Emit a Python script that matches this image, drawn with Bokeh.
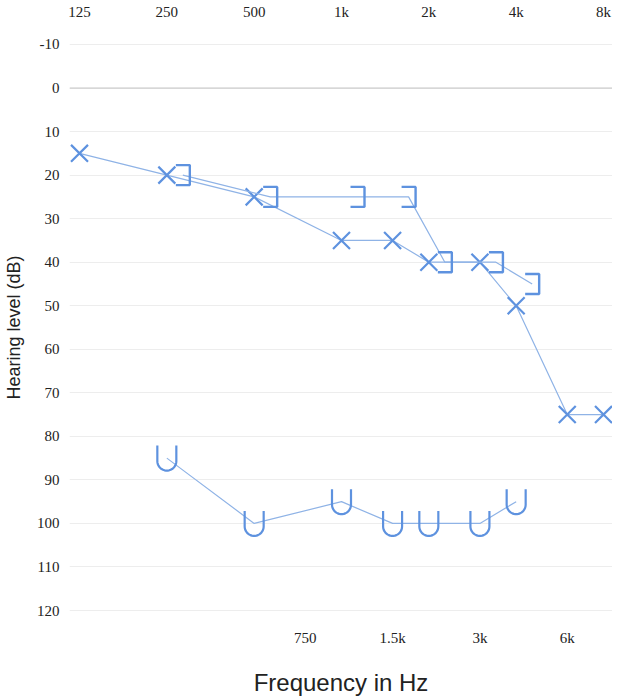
import numpy as np
from bokeh.plotting import figure
from bokeh.models import Range1d, LogAxis, FixedTicker, Span
from bokeh.embed import file_html
from bokeh.resources import INLINE

# axis ticks
top_ticks = [125, 250, 500, 1000, 2000, 4000, 8000]
top_labels = ["125", "250", "500", "1k", "2k", "4k", "8k"]
bottom_ticks = [750, 1500, 3000, 6000]
bottom_labels = ["750", "1.5k", "3k", "6k"]
db_ticks = list(range(-10, 121, 10))

# thresholds
x_freq = [125, 250, 500, 1000, 1500, 2000, 3000, 4000, 6000, 8000]
x_db = [15, 20, 25, 35, 35, 40, 40, 50, 75, 75]
bracket_freq = [250, 500, 1000, 1500, 2000, 3000, 4000]
bracket_db = [20, 25, 25, 25, 40, 40, 45]
u_freq = [250, 500, 1000, 1500, 2000, 3000, 4000]
u_db = [85, 100, 95, 100, 100, 100, 95]

BLUE = "#5e92df"
LINE = "#8fb3e6"
OCT_PX = 87.33   # pixels per octave
DB_PX = 4.354    # pixels per dB


def fx(f, px):
    return f * 2 ** (px / OCT_PX)


def fy(d, px):
    return d + px / DB_PX


p = figure(frame_width=543, frame_height=590, x_axis_type="log",
           x_range=Range1d(fx(125, -10), fx(8000, 9)),
           y_range=Range1d(fy(120, 12), fy(-10, -12)),
           output_backend="svg", toolbar_location=None,
           min_border_left=62, min_border_right=0, min_border_top=24, min_border_bottom=60)
p.outline_line_color = None
p.xgrid.grid_line_color = None
p.ygrid.ticker = FixedTicker(ticks=db_ticks)
p.ygrid.grid_line_color = "#ededed"
p.add_layout(Span(location=0, dimension="width", line_color="#c4c4c4", line_width=1))

for ax in [p.xaxis[0], p.yaxis[0]]:
    ax.axis_line_color = None
    ax.major_tick_line_color = None
    ax.minor_tick_line_color = None
    ax.major_label_text_font = "Liberation Serif"
    ax.major_label_text_font_size = "15px"
    ax.major_label_text_color = "#222222"
    ax.axis_label_text_font = "Liberation Sans"
    ax.axis_label_text_font_style = "normal"
    ax.axis_label_text_color = "#222222"

p.yaxis.ticker = FixedTicker(ticks=db_ticks)
p.yaxis.major_label_overrides = {t: str(t) for t in db_ticks}
p.yaxis.major_label_standoff = 4
p.yaxis.axis_label = "Hearing level (dB)"
p.yaxis.axis_label_text_font_size = "18px"
p.yaxis.axis_label_standoff = 10

p.xaxis.ticker = FixedTicker(ticks=bottom_ticks)
p.xaxis.major_label_overrides = dict(zip(bottom_ticks, bottom_labels))
p.xaxis.major_label_standoff = 1
p.xaxis.axis_label = "Frequency in Hz"
p.xaxis.axis_label_text_font_size = "24px"
p.xaxis.axis_label_standoff = 20

top = LogAxis(ticker=FixedTicker(ticks=top_ticks),
              major_label_overrides=dict(zip(top_ticks, top_labels)),
              axis_line_color=None, major_tick_line_color=None, minor_tick_line_color=None,
              major_label_text_font="Liberation Serif", major_label_text_font_size="15px",
              major_label_text_color="#222222", major_label_standoff=7)
p.add_layout(top, "above")

# X symbols
p.line(x_freq, x_db, line_color=LINE, line_width=1.2)
p.scatter(x_freq, x_db, marker="x", size=24, line_color=BLUE, line_width=2.2)

# ] symbols, drawn just right of the frequency
BR_DX = 16
br_x = [fx(f, BR_DX) for f in bracket_freq]
p.line(br_x, bracket_db, line_color=LINE, line_width=1.2)
bxs, bys = [], []
for f, d in zip(bracket_freq, bracket_db):
    bxs.append([fx(f, BR_DX - 7), fx(f, BR_DX + 7), fx(f, BR_DX + 7), fx(f, BR_DX - 7)])
    bys.append([fy(d, -10), fy(d, -10), fy(d, 10), fy(d, 10)])
p.multi_line(bxs, bys, line_color=BLUE, line_width=2.4)

# U symbols
p.line(u_freq, u_db, line_color=LINE, line_width=1.2)
th = np.linspace(np.pi, 0, 20)
uxs, uys = [], []
for f, d in zip(u_freq, u_db):
    px = np.concatenate([[-9.5], 9.5 * np.cos(th), [9.5]])
    py = np.concatenate([[-12.5], 3 + 9.5 * np.sin(th), [-12.5]])
    uxs.append([fx(f, a) for a in px])
    uys.append([fy(d, b) for b in py])
p.multi_line(uxs, uys, line_color=BLUE, line_width=2.2)

open("out.html", "w").write(file_html(p, INLINE))
